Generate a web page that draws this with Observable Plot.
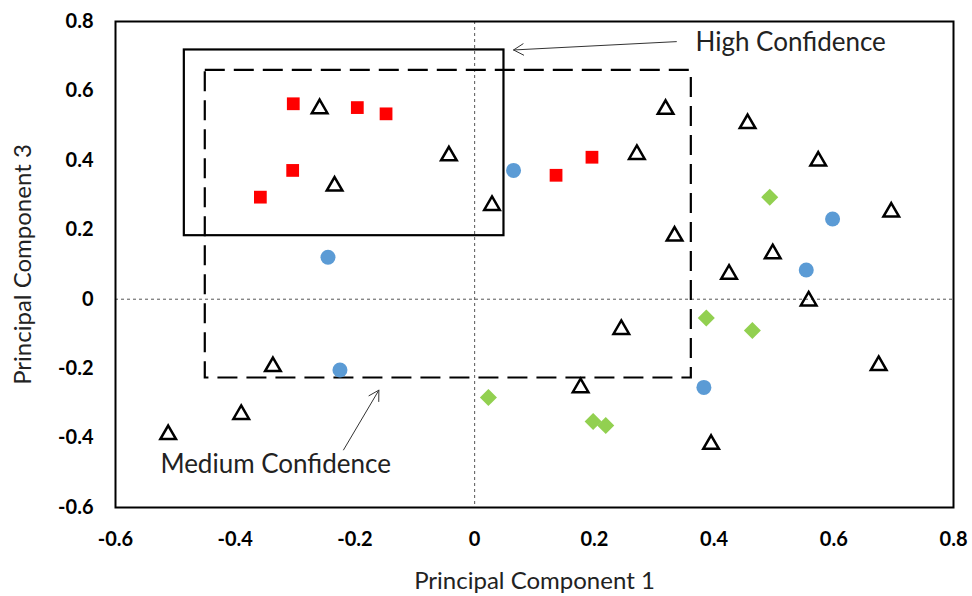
<!DOCTYPE html>
<html>
<head>
<meta charset="utf-8">
<script src="https://cdn.jsdelivr.net/npm/d3@7"></script>
<script src="https://cdn.jsdelivr.net/npm/@observablehq/plot@0.6"></script>
<style>
  html, body { margin: 0; padding: 0; background: #fff; }
</style>
</head>
<body>
<div id="chart"></div>
<script>
// Series values: [PC1, PC3]
const squaresRed = [[-0.303,0.563],[-0.196,0.552],[-0.148,0.534],[-0.304,0.371],[-0.358,0.294],[0.136,0.357],[0.196,0.409]];
const trianglesOpen = [[-0.259,0.549],[-0.043,0.413],[-0.234,0.326],[0.029,0.270],[0.319,0.547],[0.271,0.417],[0.456,0.506],[0.574,0.398],[0.696,0.251],[0.334,0.182],[0.498,0.131],[0.425,0.072],[0.558,-0.005],[0.245,-0.087],[0.177,-0.255],[0.395,-0.418],[0.675,-0.191],[-0.337,-0.194],[-0.390,-0.332],[-0.512,-0.390]];
const circlesBlue = [[-0.245,0.121],[0.065,0.371],[0.598,0.231],[0.554,0.084],[-0.225,-0.204],[0.383,-0.254]];
const diamondsGreen = [[0.493,0.294],[0.387,-0.054],[0.464,-0.090],[0.023,-0.283],[0.198,-0.352],[0.219,-0.364]];

// Confidence boxes: x1, x2, y1, y2
const highBox = [[-0.485, 0.049, 0.183, 0.718]];
const mediumBox = [[-0.450, 0.362, -0.227, 0.659]];

// Annotation labels and arrows
const labelTexts = ["High Confidence", "Medium Confidence"];
const labelX = [0.369, -0.525];
const labelY = [0.739, -0.478];
const arrowFrom = [[0.337, 0.742], [-0.219, -0.434]];
const arrowTo = [[0.065, 0.718], [-0.160, -0.262]];

// Ticks and titles
const xTicks = [-0.6, -0.4, -0.2, 0, 0.2, 0.4, 0.6, 0.8];
const yTicks = [-0.6, -0.4, -0.2, 0, 0.2, 0.4, 0.6, 0.8];
const xTitle = "Principal Component 1";
const yTitle = "Principal Component 3";

const fmt = d => d === 0 ? "0" : d.toFixed(1);
const labels = labelTexts.map((t, i) => ({t, x: labelX[i], y: labelY[i]}));
const arrows = arrowFrom.map((f, i) => ({x1: f[0], y1: f[1], x2: arrowTo[i][0], y2: arrowTo[i][1]}));

const chart = Plot.plot({
  width: 972,
  height: 596,
  marginLeft: 115,
  marginRight: 19,
  marginTop: 21,
  marginBottom: 89,
  x: {domain: [-0.6, 0.8]},
  y: {domain: [-0.6, 0.8]},
  style: {fontFamily: "Lato, 'Open Sans', sans-serif", background: "#fff", color: "#000"},
  marks: [
    Plot.ruleX([0], {stroke: "#555", strokeWidth: 1, strokeDasharray: "3,3"}),
    Plot.ruleY([0], {stroke: "#555", strokeWidth: 1, strokeDasharray: "3,3"}),
    Plot.rect(highBox, {x1: d => d[0], x2: d => d[1], y1: d => d[2], y2: d => d[3], fill: "none", stroke: "#000", strokeWidth: 2.2}),
    Plot.rect(mediumBox, {x1: d => d[0], x2: d => d[1], y1: d => d[2], y2: d => d[3], fill: "none", stroke: "#000", strokeWidth: 2.2, strokeDasharray: "20,9"}),
    Plot.frame({stroke: "#000", strokeWidth: 2}),
    Plot.dot(trianglesOpen, {x: d => d[0], y: d => d[1], symbol: "triangle", r: 5.8, stroke: "#000", strokeWidth: 2.5, fill: "none"}),
    Plot.dot(squaresRed, {x: d => d[0], y: d => d[1], symbol: "square", r: 7.2, fill: "#ff0000", stroke: "none"}),
    Plot.dot(circlesBlue, {x: d => d[0], y: d => d[1], symbol: "circle", r: 7.5, fill: "#5b9bd5", stroke: "none"}),
    Plot.dot(diamondsGreen, {x: d => d[0], y: d => d[1], symbol: "square", r: 6.8, rotate: 45, fill: "#92d050", stroke: "none"}),
    Plot.arrow(arrows, {x1: "x1", y1: "y1", x2: "x2", y2: "y2", stroke: "#333", strokeWidth: 1, headLength: 17, bend: 0}),
    Plot.text(labels, {x: "x", y: "y", text: "t", textAnchor: "start", lineAnchor: "middle", fontSize: 26, fill: "#222"}),
    Plot.axisX({ticks: xTicks, tickFormat: fmt, tickSize: 0, tickPadding: 24, fontSize: 20, fontWeight: "bold", label: null}),
    Plot.axisY({ticks: yTicks, tickFormat: fmt, tickSize: 0, tickPadding: 22, fontSize: 20, fontWeight: "bold", label: null}),
    Plot.text([xTitle], {frameAnchor: "bottom", text: d => d, dy: 74, textAnchor: "middle", lineAnchor: "middle", fontSize: 24, fill: "#222"}),
    Plot.text([yTitle], {frameAnchor: "left", text: d => d, dx: -92, rotate: -90, textAnchor: "middle", lineAnchor: "middle", fontSize: 24, fill: "#222"})
  ]
});
document.getElementById("chart").appendChild(chart);
</script>
</body>
</html>
